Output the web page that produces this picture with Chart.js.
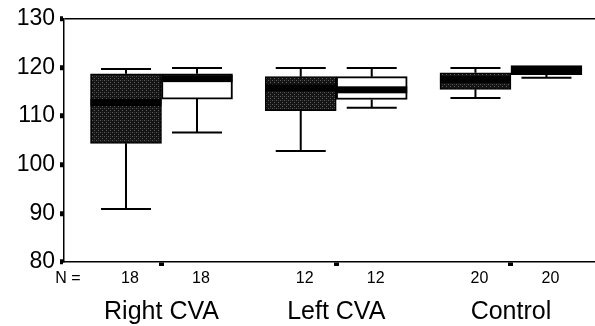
<!DOCTYPE html>
<html>
<head>
<meta charset="utf-8">
<script src="https://cdn.jsdelivr.net/npm/chart.js@4/dist/chart.umd.min.js"></script>
<style>
  html, body { margin: 0; padding: 0; background: #fff; }
  #wrap { width: 595px; height: 326px; position: relative; }
</style>
</head>
<body>
<div id="wrap"><canvas id="c" width="595" height="326"></canvas></div>
<script>
// ---- Data ----
const groups = ['Right CVA', 'Left CVA', 'Control'];
const nDark  = [18, 12, 20];
const nLight = [18, 12, 20];

const darkMin    = [90.9, 102.8, 113.7];
const darkQ1     = [104.4, 111.1, 115.5];
const darkMedian = [112.8, 115.8, 117.5];
const darkQ3     = [118.7, 118.1, 118.9];
const darkMax    = [119.7, 119.9, 119.9];

const lightMin    = [106.6, 111.7, 117.9];
const lightQ1     = [113.5, 113.4, 118.5];
const lightMedian = [117.7, 115.4, 119.5];
const lightQ3     = [118.7, 118.1, 120.4];
const lightMax    = [119.9, 119.9, 120.4];

const yTicks = [80, 90, 100, 110, 120, 130];

// stipple pattern for the dark boxes
function makePattern() {
  const pc = document.createElement('canvas');
  pc.width = 4; pc.height = 4;
  const p = pc.getContext('2d');
  p.fillStyle = '#141414';
  p.fillRect(0, 0, 4, 4);
  p.fillStyle = '#5e5e5e';
  p.fillRect(0, 0, 1, 1);
  p.fillRect(2, 2, 1, 1);
  p.fillStyle = '#333';
  p.fillRect(2, 0, 1, 1);
  return p.createPattern(pc, 'repeat');
}
const ctx = document.getElementById('c').getContext('2d');
const darkFill = makePattern();

const stats = [
  { min: darkMin, q1: darkQ1, med: darkMedian, q3: darkQ3, max: darkMax, n: nDark },
  { min: lightMin, q1: lightQ1, med: lightMedian, q3: lightQ3, max: lightMax, n: nLight }
];

const FONT = "'Liberation Sans', Arial, sans-serif";

const boxPlugin = {
  id: 'boxExtras',
  afterDatasetsDraw(chart) {
    const c = chart.ctx;
    const ys = chart.scales.y;
    c.save();
    c.strokeStyle = '#000';
    c.fillStyle = '#000';
    stats.forEach((s, d) => {
      const meta = chart.getDatasetMeta(d);
      meta.data.forEach((bar, i) => {
        const x = bar.x;
        const yQ1 = ys.getPixelForValue(s.q1[i]);
        const yQ3 = ys.getPixelForValue(s.q3[i]);
        const yMin = ys.getPixelForValue(s.min[i]);
        const yMax = ys.getPixelForValue(s.max[i]);
        const yMed = ys.getPixelForValue(s.med[i]);
        const capHalf = 25;
        c.lineWidth = 2;
        if (yMax < yQ3 - 0.5) {
          c.beginPath();
          c.moveTo(x, yQ3); c.lineTo(x, yMax);
          c.moveTo(x - capHalf, yMax); c.lineTo(x + capHalf, yMax);
          c.stroke();
        }
        if (yMin > yQ1 + 0.5) {
          c.beginPath();
          c.moveTo(x, yQ1); c.lineTo(x, yMin);
          c.moveTo(x - capHalf, yMin); c.lineTo(x + capHalf, yMin);
          c.stroke();
        }
        const left = x - bar.width / 2, right = x + bar.width / 2;
        const t = Math.max(yMed - 3.5, yQ3), b = Math.min(yMed + 3.5, yQ1);
        c.fillStyle = d === 0 ? '#000' : '#000';
        c.fillRect(left, t, right - left, b - t);
      });
    });
    c.restore();
  },
  afterDraw(chart) {
    const c = chart.ctx;
    const area = chart.chartArea;
    c.save();
    c.fillStyle = '#000';
    c.font = '16px ' + FONT;
    c.textBaseline = 'middle';
    c.textAlign = 'center';
    const yN = area.bottom + 17;
    c.fillText('N =', 68, yN);
    stats.forEach((s, d) => {
      const meta = chart.getDatasetMeta(d);
      meta.data.forEach((bar, i) => {
        c.fillText(String(s.n[i]), bar.x + 4, yN);
      });
    });
    c.restore();
  }
};

new Chart(ctx, {
  type: 'bar',
  data: {
    datasets: [
      {
        label: 'dark',
        data: groups.map((g, i) => ({ x: i + 1, y: [darkQ1[i], darkQ3[i]] })),
        backgroundColor: darkFill,
        borderColor: '#000',
        borderWidth: 1.5,
        borderSkipped: false,
        barThickness: 71
      },
      {
        label: 'light',
        data: groups.map((g, i) => ({ x: i + 1, y: [lightQ1[i], lightQ3[i]] })),
        backgroundColor: '#fff',
        borderColor: '#000',
        borderWidth: 2,
        borderSkipped: false,
        barThickness: 71
      }
    ]
  },
  options: {
    responsive: false,
    animation: false,
    events: [],
    layout: { padding: { top: 15, right: 0, left: 0, bottom: 0 } },
    plugins: { legend: { display: false }, tooltip: { enabled: false } },
    scales: {
      x: {
        type: 'linear',
        offset: false,
        min: 0.442,
        max: 3.481,
        afterBuildTicks(scale) { scale.ticks = [1, 2, 3].map(v => ({ value: v })); },
        afterFit(scale) { scale.height = 64; },
        grid: { offset: false, drawOnChartArea: false, drawTicks: true, tickLength: 4, tickWidth: 5, tickColor: '#000' },
        border: { color: '#000', width: 1.5 },
        ticks: {
          color: '#000',
          font: { family: FONT, size: 25 },
          padding: 31,
          maxRotation: 0,
          autoSkip: false,
          callback: (v) => groups[Math.round(v) - 1] || ''
        }
      },
      y: {
        min: 80,
        max: 130,
        afterBuildTicks(scale) { scale.ticks = yTicks.map(v => ({ value: v })); },
        afterFit(scale) { scale.width = 64; },
        grid: {
          drawOnChartArea: true,
          color: (c) => (c.tick && c.tick.value === 130 ? '#000' : 'rgba(0,0,0,0)'),
          lineWidth: 1.5,
          tickColor: '#000',
          tickLength: 4,
          tickWidth: 5
        },
        border: { color: '#000', width: 1.5 },
        ticks: {
          color: '#000',
          font: { family: FONT, size: 23 },
          padding: 5
        }
      }
    }
  },
  plugins: [boxPlugin]
});
</script>
</body>
</html>
